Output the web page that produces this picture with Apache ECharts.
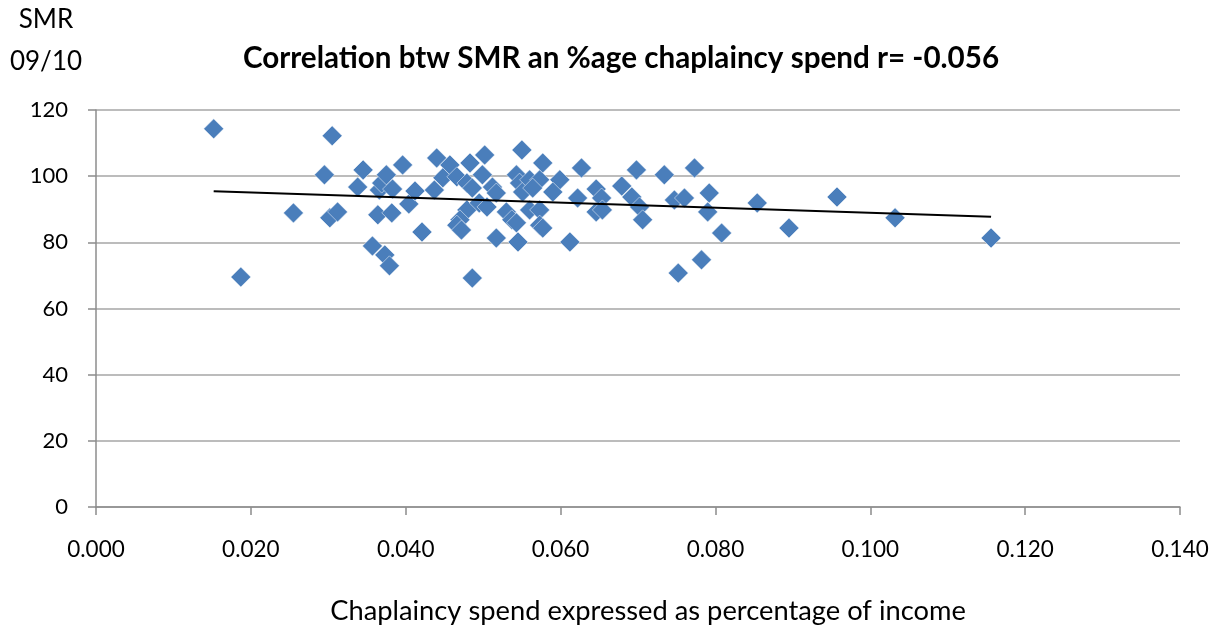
<!DOCTYPE html>
<html>
<head>
<meta charset="utf-8">
<script src="https://cdn.jsdelivr.net/npm/echarts@6/dist/echarts.min.js"></script>
<style>
html,body{margin:0;padding:0;background:#fff;}
#chart{width:1217px;height:629px;}
</style>
</head>
<body>
<div id="chart"></div>
<script>
// Chaplaincy spend (% of income) values
const spendValues = [
  0.0152,0.0187,0.0255,0.0295,0.0305,0.0302,0.0312,0.0338,0.0345,0.0357,
  0.0364,0.0366,0.0369,0.0375,0.0383,0.0373,0.0379,0.0382,0.0396,0.0404,
  0.0412,0.0421,0.0440,0.0437,0.0457,0.0483,0.0502,0.0550,0.0448,0.0466,
  0.0479,0.0499,0.0486,0.0512,0.0517,0.0543,0.0547,0.0551,0.0479,0.0470,
  0.0466,0.0472,0.0495,0.0505,0.0530,0.0537,0.0543,0.0517,0.0545,0.0486,
  0.0560,0.0573,0.0564,0.0577,0.0627,0.0599,0.0590,0.0646,0.0622,0.0653,
  0.0560,0.0573,0.0646,0.0654,0.0573,0.0577,0.0612,0.0698,0.0734,0.0773,
  0.0679,0.0692,0.0702,0.0706,0.0747,0.0760,0.0792,0.0790,0.0808,0.0782,
  0.0752,0.0854,0.0895,0.0957,0.1032,0.1156
];
// SMR 09/10 values
const smrValues = [
  114.3,69.5,88.9,100.4,112.2,87.4,89.2,96.7,101.9,78.9,
  88.3,95.8,97.9,100.4,96.1,76.2,72.9,88.9,103.4,91.6,
  95.5,83.1,105.5,95.8,103.4,104.0,106.4,107.9,99.5,99.8,
  97.9,100.4,96.4,96.7,94.9,100.4,97.9,95.2,89.8,86.8,
  85.2,83.7,91.9,90.7,89.2,86.8,85.9,81.3,80.1,69.2,
  98.9,98.9,96.4,104.0,102.5,98.9,95.2,96.1,93.4,93.4,
  89.8,89.8,89.2,89.8,85.2,84.3,80.1,101.9,100.4,102.5,
  97.0,93.7,90.7,86.8,92.8,93.4,94.9,89.2,82.8,74.7,
  70.7,91.9,84.3,93.7,87.4,81.3
];
const xTickLabels = ['0.000','0.020','0.040','0.060','0.080','0.100','0.120','0.140'];
const yTickLabels = ['0','20','40','60','80','100','120'];
const titleText = 'Correlation btw SMR an %age chaplaincy spend r= -0.056';
const xAxisTitle = 'Chaplaincy spend expressed as percentage of income';
const yAxisTitle = 'SMR\n09/10';

const points = spendValues.map((x, i) => [x, smrValues[i]]);

// Linear least-squares trendline over the data range
const n = points.length;
let sx = 0, sy = 0, sxx = 0, sxy = 0;
points.forEach(p => { sx += p[0]; sy += p[1]; sxx += p[0]*p[0]; sxy += p[0]*p[1]; });
const slope = (n*sxy - sx*sy) / (n*sxx - sx*sx);
const intercept = (sy - slope*sx) / n;
const xMin = Math.min(...spendValues), xMax = Math.max(...spendValues);
const trend = [[xMin, intercept + slope*xMin], [xMax, intercept + slope*xMax]];

const FONT = 'Lato, "Open Sans", sans-serif';
const chart = echarts.init(document.getElementById('chart'), null, {renderer: 'canvas'});
chart.setOption({
  animation: false,
  backgroundColor: '#ffffff',
  title: {
    text: titleText,
    left: 616, top: 38, textAlign: 'center',
    textStyle: {fontFamily: FONT, fontSize: 29.6, fontWeight: 'bold', color: '#000'}
  },
  grid: {left: 96, right: 37, top: 110, bottom: 122, containLabel: false, outerBoundsMode: 'none'},
  xAxis: {
    type: 'value', min: 0, max: 0.14, interval: 0.02,
    name: xAxisTitle, nameLocation: 'middle', nameGap: 91,
    nameTextStyle: {fontFamily: FONT, fontSize: 27.3, color: '#000', padding: [0, 0, 0, 20]},
    axisLine: {show: true, lineStyle: {color: '#8c8c8c', width: 1.5}},
    axisTick: {show: true, length: 8, lineStyle: {color: '#8c8c8c', width: 1.5}},
    splitLine: {show: false},
    axisLabel: {
      margin: 31, fontFamily: FONT, fontSize: 22.5, color: '#000',
      formatter: v => xTickLabels[Math.round(v / 0.02)]
    }
  },
  yAxis: {
    type: 'value', min: 0, max: 120, interval: 20,
    name: yAxisTitle, nameLocation: 'end', nameGap: 27,
    nameTextStyle: {fontFamily: FONT, fontSize: 26, color: '#000', lineHeight: 42, align: 'center', padding: [0, 100, 0, 0]},
    axisLine: {show: true, lineStyle: {color: '#8c8c8c', width: 1.5}},
    axisTick: {show: true, length: 8, lineStyle: {color: '#8c8c8c', width: 1.5}},
    splitLine: {show: true, lineStyle: {color: '#a6a6a6', width: 1.5}},
    axisLabel: {
      margin: 28, fontFamily: FONT, fontSize: 22, color: '#000',
      formatter: v => yTickLabels[Math.round(v / 20)]
    }
  },
  series: [
    {
      type: 'scatter', data: points, symbol: 'diamond', symbolSize: 20,
      itemStyle: {color: '#4A7EBB', opacity: 1, borderColor: '#ffffff', borderWidth: 0.5},
      z: 2
    },
    {
      type: 'line', data: trend, symbol: 'none', silent: true,
      lineStyle: {color: '#000', width: 2}, z: 3
    }
  ]
});
</script>
</body>
</html>
